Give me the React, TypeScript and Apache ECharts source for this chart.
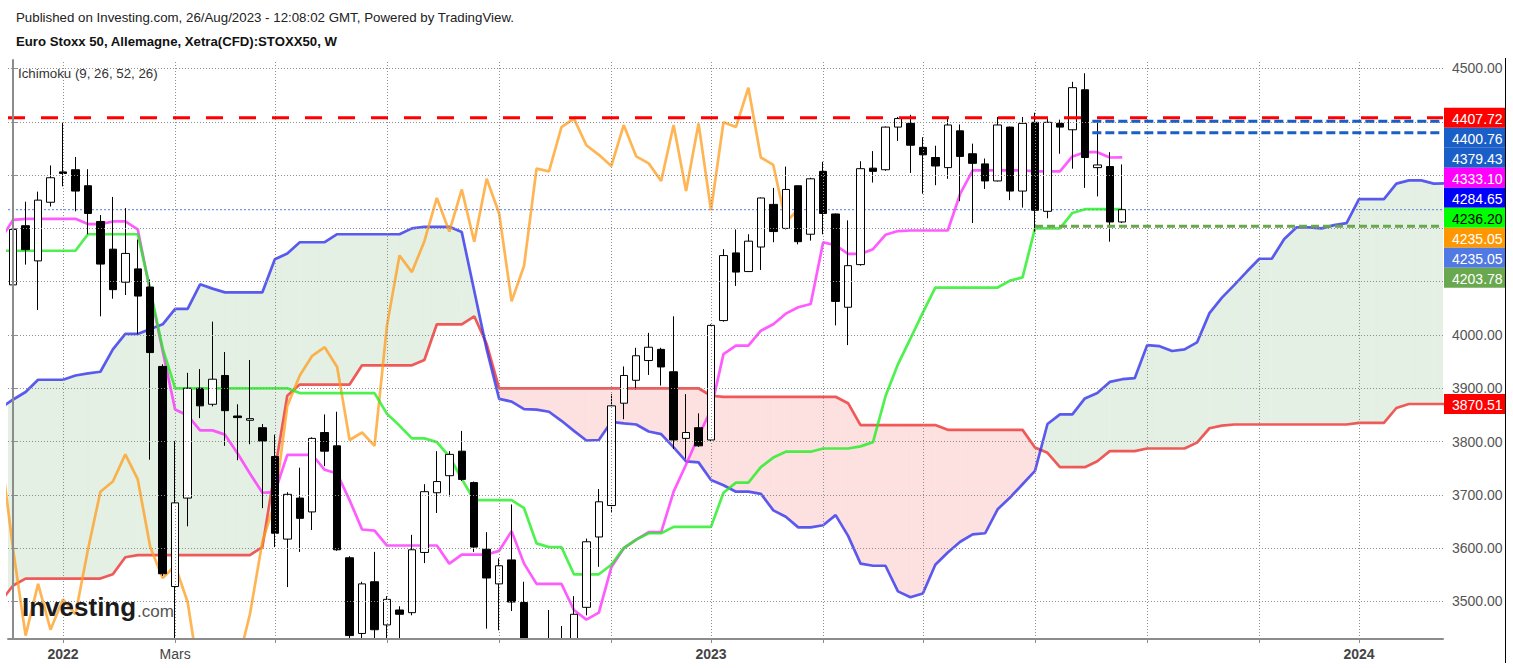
import React, { useEffect, useRef } from "react";
import * as echarts from "echarts";

// Weekly bars of Euro Stoxx 50 (CFD), index 0 = week of 2021-12-06
const opens = [
  4094, 4205, 4139, 4249, 4306, 4310, 4280, 4213, 4161, 4099, 4124, 4090, 3941, 3528, 3694, 3900, 3870, 3924, 3848, 3840,
  3826, 3772, 3617, 3694, 3668, 3817, 3792, 3582, 3440, 3537, 3456, 3484, 3479, 3592, 3704, 3736, 3782, 3723, 3598, 3533,
  3578, 3498, 3345, 3330, 3360, 3380, 3489, 3621, 3680, 3872, 3915, 3952, 3973, 3931, 3806, 3826, 3803, 4027, 4154, 4119,
  4165, 4245, 4200, 4280, 4189, 4307, 4227, 4052, 4132, 4313, 4310, 4390, 4397, 4352, 4333, 4314, 4383, 4340, 4321, 4289,
  4390, 4270, 4399, 4232, 4397, 4385, 4460, 4314, 4316, 4212,
];
const closes = [
  4198, 4160, 4253, 4295, 4303, 4270, 4228, 4133, 4085, 4153, 4073, 3967, 3552, 3685, 3900, 3867, 3917, 3858, 3845, 3843,
  3801, 3628, 3701, 3656, 3806, 3782, 3597, 3436, 3533, 3447, 3504, 3476, 3597, 3706, 3725, 3776, 3729, 3602, 3544, 3567,
  3499, 3349, 3318, 3376, 3381, 3476, 3612, 3687, 3867, 3924, 3961, 3977, 3940, 3803, 3817, 3792, 4018, 4149, 4118, 4176,
  4257, 4194, 4273, 4175, 4293, 4228, 4063, 4130, 4312, 4307, 4390, 4406, 4356, 4338, 4317, 4394, 4335, 4322, 4289, 4394,
  4270, 4397, 4234, 4399, 4390, 4464, 4333, 4319, 4212, 4235.05,
];
const lows = [
  4080, 4132, 4047, 4241, 4279, 4232, 4189, 4035, 4068, 4075, 4002, 3766, 3548, 3387, 3641, 3844, 3866, 3792, 3765, 3795,
  3675, 3602, 3527, 3593, 3634, 3754, 3595, 3428, 3400, 3415, 3420, 3410, 3474, 3572, 3666, 3697, 3726, 3593, 3449, 3446,
  3482, 3340, 3250, 3320, 3280, 3345, 3474, 3565, 3668, 3842, 3898, 3925, 3905, 3786, 3768, 3790, 3800, 4025, 4092, 4118,
  4122, 4174, 4198, 4170, 4177, 4189, 4018, 3981, 4130, 4286, 4308, 4364, 4304, 4265, 4281, 4293, 4251, 4210, 4274, 4288,
  4253, 4239, 4194, 4219, 4340, 4312, 4276, 4260, 4175, 4210,
];
const highs = [
  4288, 4250, 4269, 4318, 4398, 4334, 4311, 4225, 4259, 4238, 4179, 4104, 3945, 3801, 3929, 3936, 4025, 3968, 3870, 3953,
  3833, 3813, 3705, 3751, 3808, 3851, 3856, 3585, 3537, 3593, 3510, 3491, 3625, 3720, 3782, 3782, 3820, 3725, 3630, 3581,
  3682, 3537, 3390, 3484, 3454, 3510, 3618, 3711, 3889, 3941, 3976, 4004, 3976, 4035, 3889, 3853, 4020, 4161, 4198, 4189,
  4258, 4276, 4316, 4280, 4295, 4325, 4228, 4215, 4326, 4345, 4391, 4409, 4413, 4371, 4355, 4410, 4395, 4359, 4331, 4409,
  4391, 4409, 4417, 4409, 4404, 4475, 4491, 4402, 4343, 4320,
];

// Ichimoku (9, 26, 52, 26); arrays start at week index -1
const LINE_START = -1;
const tenkan = [
  4180, 4216, 4218, 4218, 4218, 4218, 4218, 4208, 4208, 4213, 4213, 4198, 4081, 3970, 3860, 3849, 3821, 3821, 3813, 3778,
  3740, 3704, 3705, 3775, 3775, 3775, 3747, 3740, 3690, 3635, 3633, 3605, 3605, 3605, 3605, 3605, 3571, 3588, 3588, 3588,
  3595, 3632, 3571, 3533, 3533, 3533, 3484, 3466, 3479, 3564, 3600, 3616, 3630, 3630, 3706, 3757, 3810, 3860, 3964, 3980,
  3980, 4008, 4020, 4040, 4052, 4058, 4174, 4168, 4152, 4152, 4161, 4188, 4195, 4196, 4196, 4196, 4196, 4265, 4309, 4309,
  4309, 4309, 4309, 4307, 4307, 4307, 4335, 4343, 4343, 4333, 4333.1,
];
const kijun = [
  4158, 4158, 4158, 4158, 4158, 4158, 4158, 4189, 4189, 4189, 4189, 4189, 4085, 3975, 3900, 3900, 3900, 3900, 3900, 3900,
  3900, 3900, 3900, 3900, 3891, 3891, 3891, 3891, 3891, 3891, 3891, 3852, 3830, 3806, 3806, 3799, 3772, 3730, 3690, 3690,
  3690, 3690, 3675, 3609, 3602, 3602, 3551, 3551, 3551, 3569, 3600, 3616, 3628, 3628, 3640, 3640, 3640, 3640, 3704, 3723,
  3723, 3752, 3770, 3781, 3781, 3781, 3787, 3787, 3787, 3791, 3799, 3885, 3945, 3993, 4042, 4089, 4089, 4089, 4089, 4089,
  4089, 4102, 4108, 4200, 4200, 4200, 4229, 4236, 4236, 4236, 4236.2,
];
const senkouA = [
  3863, 3879, 3893, 3916, 3916, 3916, 3924, 3928, 3931, 3973, 4002, 4002, 4011, 4020, 4049, 4049, 4095, 4087, 4080, 4080,
  4080, 4080, 4142, 4153, 4174, 4174, 4174, 4189, 4189, 4189, 4189, 4189, 4189, 4200, 4203, 4203, 4203, 4193, 4083, 3973,
  3880, 3875, 3861, 3860, 3856, 3839, 3820, 3802, 3803, 3837, 3834, 3832, 3819, 3814, 3789, 3763, 3761, 3728, 3718, 3706,
  3706, 3702, 3671, 3659, 3639, 3639, 3643, 3662, 3623, 3571, 3567, 3567, 3519, 3508, 3515, 3569, 3592, 3612, 3626, 3628,
  3673, 3695, 3720, 3745, 3833, 3851, 3851, 3881, 3891, 3912, 3917, 3919, 3981, 3979, 3970, 3973, 3986, 4041, 4070, 4094,
  4119, 4143, 4143, 4180, 4202, 4202, 4200, 4206, 4210, 4255, 4255, 4255, 4284, 4290, 4290, 4284, 4284.65,
];
const senkouB = [
  3500, 3530, 3543, 3543, 3543, 3543, 3543, 3543, 3543, 3551, 3583, 3587, 3587, 3587, 3587, 3587, 3587, 3587, 3587, 3587,
  3587, 3602, 3745, 3886, 3907, 3907, 3907, 3907, 3907, 3943, 3943, 3943, 3943, 3943, 3953, 4020, 4020, 4020, 4035, 3983,
  3900, 3900, 3900, 3900, 3900, 3900, 3900, 3900, 3900, 3900, 3900, 3900, 3900, 3900, 3900, 3900, 3900, 3886, 3884, 3884,
  3884, 3884, 3884, 3884, 3884, 3884, 3884, 3884, 3872, 3831, 3831, 3831, 3831, 3831, 3831, 3831, 3822, 3822, 3822, 3822,
  3822, 3822, 3822, 3789, 3779, 3752, 3752, 3752, 3763, 3782, 3782, 3782, 3787, 3787, 3787, 3787, 3798, 3825, 3830, 3832,
  3832, 3832, 3832, 3832, 3832, 3832, 3832, 3832, 3832, 3835, 3835, 3835, 3863, 3870.51, 3870.51, 3870.51, 3870.51,
];
const CHIKOU_SHIFT = 26;

// axis ticks / labels (week indices)
const xTickIdx = [4, 13, 21, 30, 39, 48, 56, 65, 73, 82, 91, 100, 108];
const xLabelIdx = [4, 13, 56, 108];
const xLabelText = ["2022", "Mars", "2023", "2024"];
const xLabelBold = [true, false, true, true];
const yTicks = [3500, 3600, 3700, 3800, 3900, 4000, 4100, 4200, 4300, 4400, 4500];
// labels hidden behind the price tags in the reference are not drawn
const yLabels = [3500, 3600, 3700, 3800, 3900, 4000, 4100, 4500];

// horizontal levels
const levelValues = [4407.72, 4400.76, 4379.43, 4203.78, 4235.05];
const levelFrom = [null, 86.6, 86.6, 82, null];
const levelColors = ["#ff0000", "#1a5fc8", "#1a5fc8", "#6aa84f", "#5a7fe3"];

// right-hand price tags
const tagValues = [4407.72, 4400.76, 4379.43, 4333.1, 4284.65, 4236.2, 4235.05, 4235.05, 4203.78, 3870.51];
const tagColors = ["#ff0000", "#1a5fc8", "#1a5fc8", "#ff00ff", "#0000ff", "#00ff00", "#ff9800", "#5079e3", "#6aa84f", "#ff0000"];
const tagTextColors = ["#fff", "#fff", "#fff", "#fff", "#fff", "#000", "#fff", "#fff", "#fff", "#fff"];

const FONT = "'Liberation Sans', Arial, sans-serif";
const GRID_L = 8;
const GRID_R = 1443;
const GRID_T = 60;
const GRID_B = 639;
const X_MIN = -0.4133;
const X_MAX = 114.74;
const Y_MIN = 3429.6;
const Y_MAX = 4515.9;

function yPix(v: number) {
  return GRID_T + ((Y_MAX - v) / (Y_MAX - Y_MIN)) * (GRID_B - GRID_T);
}

function buildOption() {
  const toXY = (arr: number[], start: number) => arr.map((v, k) => [k + start, v]);
  const candles = opens.map((o, i) => [i, o, closes[i], lows[i], highs[i]]);
  const chikou = closes.map((c, i) => [i - CHIKOU_SHIFT, c]).filter((p) => p[0] >= -2);

  const cloudData: number[][] = [];
  for (let k = 0; k < senkouA.length - 1; k++) {
    cloudData.push([k + LINE_START, senkouA[k], senkouB[k], senkouA[k + 1], senkouB[k + 1]]);
  }
  const GREEN_FILL = "#e4f0e4";
  const RED_FILL = "#fde1e1";

  const lineSeries = (data: number[][], color: string, opacity = 0.8) => ({
    type: "line",
    data,
    symbol: "none",
    showSymbol: false,
    silent: true,
    z: 3,
    lineStyle: { color, width: 2.7, opacity },
    emphasis: { disabled: true },
  });

  const levelSeries = levelValues.map((v, k) => {
    const isPrice = k === 4;
    const dash = k === 0 ? [17, 16] : k === 3 ? [8, 4] : isPrice ? [2, 2] : [9, 4];
    return {
      type: "line",
      data: [
        [levelFrom[k] == null ? X_MIN : (levelFrom[k] as number), v],
        [X_MAX, v],
      ],
      symbol: "none",
      silent: true,
      z: isPrice ? 2 : 6,
      lineStyle: { color: levelColors[k], width: isPrice ? 1 : 3, type: dash },
      emphasis: { disabled: true },
    };
  });

  // stacked tags
  const tagY: number[] = [];
  tagValues.forEach((v, k) => {
    const y = yPix(v);
    tagY.push(k === 0 ? y : Math.max(y, tagY[k - 1] + 20));
  });
  const tagGraphics: any[] = [];
  tagValues.forEach((v, k) => {
    tagGraphics.push({
      type: "rect",
      z: 50,
      shape: { x: 1444, y: tagY[k] - 10, width: 61, height: 20 },
      style: { fill: tagColors[k] },
    });
    tagGraphics.push({
      type: "text",
      z: 51,
      x: 1452,
      y: tagY[k] + 1,
      style: { text: v.toFixed(2), fill: tagTextColors[k], font: `14px ${FONT}`, verticalAlign: "middle" },
    });
  });

  return {
    animation: false,
    backgroundColor: "#ffffff",
    textStyle: { fontFamily: FONT },
    grid: { left: GRID_L, right: 1513 - GRID_R, top: GRID_T, bottom: 668 - GRID_B, containLabel: false },
    xAxis: {
      type: "value",
      min: X_MIN,
      max: X_MAX,
      z: 20,
      splitLine: { show: false },
      axisLine: { show: true, lineStyle: { color: "#8c8c8c", width: 2 } },
      axisTick: { show: true, customValues: xTickIdx, length: 4, lineStyle: { color: "#8c8c8c" } },
      axisLabel: {
        customValues: xLabelIdx,
        margin: 8,
        formatter: (v: number) => {
          const k = xLabelIdx.indexOf(Math.round(v));
          if (k < 0) return "";
          return xLabelBold[k] ? `{b|${xLabelText[k]}}` : `{n|${xLabelText[k]}}`;
        },
        rich: {
          b: { fontWeight: "bold", fontSize: 14, color: "#444", fontFamily: FONT },
          n: { fontSize: 14, color: "#444", fontFamily: FONT },
        },
      },
    },
    yAxis: {
      type: "value",
      position: "right",
      min: Y_MIN,
      max: Y_MAX,
      z: 20,
      splitLine: { show: false },
      axisLine: { show: true, lineStyle: { color: "#8c8c8c", width: 2 } },
      axisTick: { show: true, customValues: yTicks, length: 4, lineStyle: { color: "#8c8c8c" } },
      axisLabel: {
        customValues: yLabels,
        margin: 9,
        color: "#555",
        fontSize: 14,
        fontFamily: FONT,
        formatter: (v: number) => v.toFixed(2),
      },
    },
    series: [
      {
        type: "custom",
        z: 1,
        clip: true,
        silent: true,
        encode: { x: 0, y: [1, 2, 3, 4] },
        data: cloudData,
        renderItem: (params: any, api: any) => {
          const x0 = api.value(0);
          const a0 = api.value(1);
          const b0 = api.value(2);
          const a1 = api.value(3);
          const b1 = api.value(4);
          const x1 = x0 + 1;
          const d0 = a0 - b0;
          const d1 = a1 - b1;
          const P = (x: number, y: number) => api.coord([x, y]);
          const poly = (pts: number[][], up: boolean) => ({
            type: "polygon",
            shape: { points: pts },
            style: { fill: up ? GREEN_FILL : RED_FILL, stroke: up ? GREEN_FILL : RED_FILL, lineWidth: 0.6 },
          });
          const children: any[] = [];
          if (d0 * d1 >= 0) {
            children.push(poly([P(x0, a0), P(x1, a1), P(x1, b1), P(x0, b0)], d0 + d1 >= 0));
          } else {
            const t = d0 / (d0 - d1);
            const xc = x0 + t;
            const yc = a0 + (a1 - a0) * t;
            children.push(poly([P(x0, a0), P(xc, yc), P(x0, b0)], d0 > 0));
            children.push(poly([P(xc, yc), P(x1, a1), P(x1, b1)], d1 > 0));
          }
          return { type: "group", children };
        },
      },
      {
        type: "line",
        data: [[0, 4000]],
        symbol: "none",
        silent: true,
        z: 2,
        lineStyle: { opacity: 0 },
        markLine: {
          silent: true,
          symbol: "none",
          animation: false,
          label: { show: false },
          emphasis: { disabled: true },
          lineStyle: { color: "#8f8f8f", width: 1, type: [1, 2] },
          data: [...yTicks.map((v) => ({ yAxis: v })), ...xTickIdx.map((v) => ({ xAxis: v }))],
        },
      },
      lineSeries(toXY(senkouB, LINE_START), "#ee3333"),
      lineSeries(toXY(senkouA, LINE_START), "#3333ee"),
      lineSeries(chikou, "#ff9c1a", 0.75),
      lineSeries(toXY(tenkan, LINE_START), "#ff33ff"),
      lineSeries(toXY(kijun, LINE_START), "#22ee22"),
      {
        type: "candlestick",
        data: candles,
        barWidth: 8,
        z: 4,
        silent: true,
        itemStyle: { color: "#ffffff", color0: "#000000", borderColor: "#000000", borderColor0: "#000000", borderWidth: 1 },
      },
      ...levelSeries,
    ],
    graphic: [
      // white band under the plot so that wicks below the visible range are cut at the axis
      {
        type: "rect",
        z: 10,
        silent: true,
        shape: { x: 0, y: GRID_B + 0.5, width: GRID_R, height: 668 - GRID_B },
        style: { fill: "#ffffff" },
      },
      {
        type: "text",
        x: 16,
        y: 17,
        z: 50,
        style: {
          text: "Published on Investing.com, 26/Aug/2023 - 12:08:02 GMT, Powered by TradingView.",
          fill: "#222",
          font: `13.3px ${FONT}`,
          verticalAlign: "middle",
        },
      },
      {
        type: "text",
        x: 16,
        y: 41,
        z: 50,
        style: {
          text: "Euro Stoxx 50, Allemagne, Xetra(CFD):STOXX50, W",
          fill: "#111",
          font: `bold 13.2px ${FONT}`,
          verticalAlign: "middle",
        },
      },
      {
        type: "text",
        x: 18,
        y: 73,
        z: 50,
        style: { text: "Ichimoku (9, 26, 52, 26)", fill: "#333", font: `13.3px ${FONT}`, verticalAlign: "middle" },
      },
      {
        type: "text",
        x: 22,
        y: 607,
        z: 60,
        style: { text: "Investing", fill: "#1b1b1b", font: `bold 26px ${FONT}`, verticalAlign: "middle" },
      },
      {
        type: "text",
        x: 137,
        y: 611,
        z: 60,
        style: { text: ".com", fill: "#555", font: `17px ${FONT}`, verticalAlign: "middle" },
      },
      {
        type: "line",
        z: 50,
        shape: { x1: 1505.5, y1: 58, x2: 1505.5, y2: 663 },
        style: { stroke: "#000", lineWidth: 1 },
      },
      ...tagGraphics,
    ],
  };
}

export default function App() {
  const ref = useRef<HTMLDivElement>(null);
  useEffect(() => {
    if (!ref.current) return;
    const chart = echarts.init(ref.current, undefined, { renderer: "svg" });
    chart.setOption(buildOption() as any);
    return () => {
      chart.dispose();
    };
  }, []);
  return (
    <div
      ref={ref}
      style={{ position: "fixed", left: 0, top: 0, width: 1513, height: 668, background: "#fff" }}
    />
  );
}
